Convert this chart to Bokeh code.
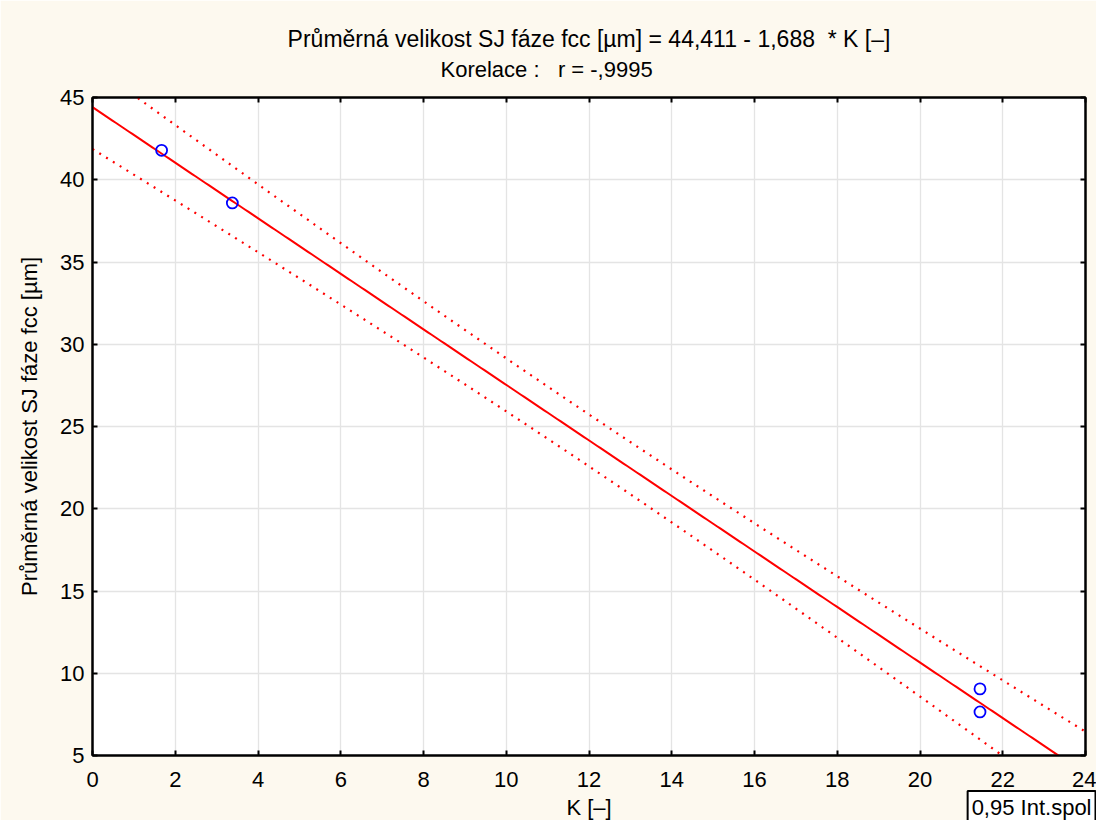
import numpy as np
from bokeh.plotting import figure
from bokeh.models import LinearAxis, Range1d, FixedTicker, Title
from bokeh.embed import file_html
from bokeh.resources import INLINE

# ---- data ----
k_values = [1.67, 3.38, 21.45, 21.45]
size_values = [41.79, 38.59, 9.05, 7.65]
intercept = 44.411
slope = -1.688
t_crit = 4.303  # Student t (0.975, df = 2) for the 0.95 band
x_ticks = [0, 2, 4, 6, 8, 10, 12, 14, 16, 18, 20, 22, 24]
y_ticks = [5, 10, 15, 20, 25, 30, 35, 40, 45]

NB = "\u00a0"
title_line1 = "Průměrná velikost SJ fáze fcc [µm] = 44,411 - 1,688" + NB + " * K [–]"
title_line2 = "Korelace :" + NB + NB + " r = -,9995"
x_label = "K [–]"
y_label = "Průměrná velikost SJ fáze fcc [µm]"
legend_text = "0,95 Int.spol"

# ---- regression line and confidence band computed from the data ----
xk = np.array(k_values)
yk = np.array(size_values)
n = len(xk)
resid = yk - (intercept + slope * xk)
s = np.sqrt(np.sum(resid ** 2) / (n - 2))
xbar = xk.mean()
sxx = np.sum((xk - xbar) ** 2)
xs = np.linspace(x_ticks[0], x_ticks[-1], 300)
fit = intercept + slope * xs
half = t_crit * s * np.sqrt(1.0 / n + (xs - xbar) ** 2 / sxx)
upper = fit + half
lower = fit - half

FONT = "Liberation Sans"
BG = "#fdf9ef"

p = figure(width=1096, height=820, title=None,
           x_range=Range1d(x_ticks[0], x_ticks[-1]),
           y_range=Range1d(y_ticks[0], y_ticks[-1]),
           output_backend="svg", toolbar_location=None,
           min_border_left=92, min_border_right=11,
           min_border_top=97, min_border_bottom=65,
           background_fill_color="white", border_fill_color=BG)
p.outline_line_color = "black"
p.outline_line_width = 2

p.line(xs, fit, line_color="#ff0000", line_width=2)
p.line(xs, upper, line_color="#ff0000", line_width=2.2, line_dash="2 6")
p.line(xs, lower, line_color="#ff0000", line_width=2.2, line_dash="2 6")
p.scatter(k_values, size_values, marker="circle", size=11,
          fill_color=None, line_color="#0000ff", line_width=1.8)

xt = FixedTicker(ticks=x_ticks)
yt = FixedTicker(ticks=y_ticks)

for ax in (p.xaxis[0], p.yaxis[0]):
    ax.major_label_text_font = FONT
    ax.major_label_text_font_size = "22px"
    ax.major_label_text_color = "black"
    ax.major_tick_in = 5
    ax.major_tick_out = 0
    ax.minor_tick_in = 0
    ax.minor_tick_out = 0
    ax.axis_line_color = "black"
    ax.axis_line_width = 2
    ax.major_tick_line_width = 2
    ax.axis_label_text_font = FONT
    ax.axis_label_text_font_size = "22px"
    ax.axis_label_text_font_style = "normal"
    ax.axis_label_text_color = "black"
p.xaxis[0].ticker = xt
p.yaxis[0].ticker = yt
p.xaxis[0].major_label_standoff = 16
p.yaxis[0].major_label_standoff = 8
p.yaxis[0].axis_label = y_label
p.yaxis[0].axis_label_standoff = 15

top_ax = LinearAxis(ticker=xt, major_label_text_font_size="0px",
                    major_tick_in=5, major_tick_out=0, minor_tick_in=0,
                    minor_tick_out=0, axis_line_width=2, major_tick_line_width=2,
                    major_label_standoff=0)
right_ax = LinearAxis(ticker=yt, major_label_text_font_size="0px",
                      major_tick_in=5, major_tick_out=0, minor_tick_in=0,
                      minor_tick_out=0, axis_line_width=2, major_tick_line_width=2,
                      major_label_standoff=0)
p.add_layout(top_ax, "above")
p.add_layout(right_ax, "right")

# spacer axis (tick drawn in the border colour): pushes the label row down
spacer_ax = LinearAxis(ticker=FixedTicker(ticks=[x_ticks[0]]),
                       major_label_text_font_size="0px",
                       major_tick_in=0, major_tick_out=18, minor_tick_in=0,
                       minor_tick_out=0, axis_line_color=None,
                       major_tick_line_color=BG, major_tick_line_width=1,
                       major_label_standoff=0)
p.add_layout(spacer_ax, "below")

p.xgrid.ticker = xt
p.ygrid.ticker = yt
p.grid.grid_line_color = "#e4e4e4"
p.grid.grid_line_width = 1.3

# titles (first added sits nearest to the frame)
p.add_layout(Title(text=title_line2, align="left", vertical_align="middle",
                   offset=348, standoff=29, text_font=FONT,
                   text_font_size="22px", text_font_style="normal",
                   text_color="black"), "above")
p.add_layout(Title(text=title_line1, align="center", vertical_align="middle",
                   standoff=-22, text_font=FONT,
                   text_font_size="23px", text_font_style="normal",
                   text_color="black"), "above")

# x-axis label and legend box share the row under the tick labels
p.add_layout(Title(text=legend_text, align="right", vertical_align="middle",
                   offset=-10, standoff=-60, text_font=FONT,
                   text_font_size="22px", text_font_style="normal",
                   text_color="black", background_fill_color="white",
                   border_line_color="black", border_line_width=2,
                   padding=4), "below")
p.add_layout(Title(text=x_label, align="center", vertical_align="middle",
                   standoff=-60, text_font=FONT,
                   text_font_size="22px", text_font_style="normal",
                   text_color="black"), "below")

open("out.html", "w").write(file_html(p, INLINE))
